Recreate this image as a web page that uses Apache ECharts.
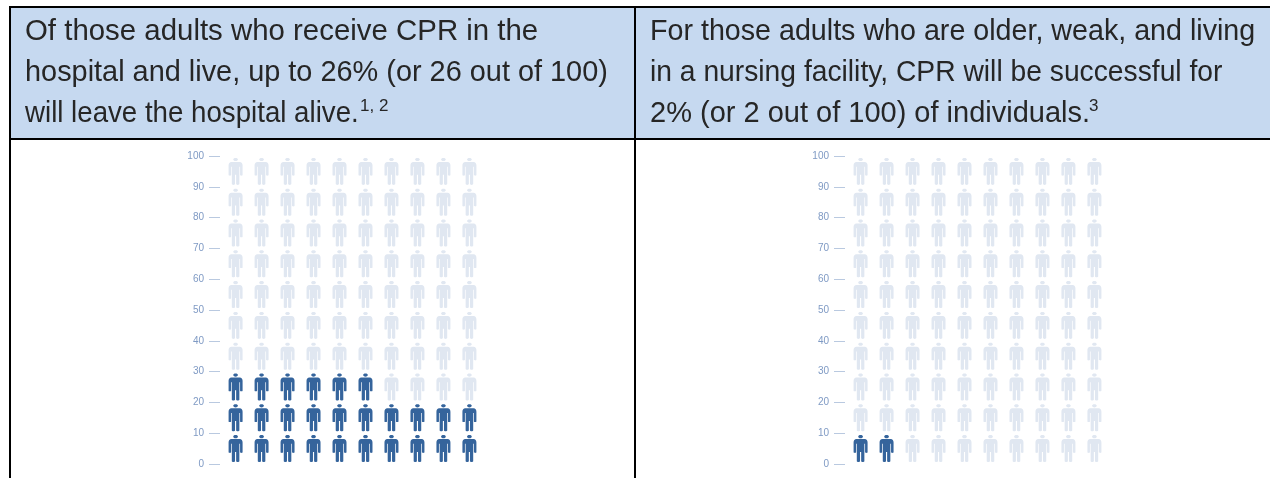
<!DOCTYPE html>
<html><head><meta charset="utf-8">
<script src="https://cdn.jsdelivr.net/npm/echarts@6/dist/echarts.min.js"></script>
<style>html,body{margin:0;padding:0;background:#fff}#c{width:1270px;height:478px}</style>
</head><body><div id="c"></div>
<script>
const leftLines = ["Of those adults who receive CPR in the","hospital and live, up to 26% (or 26 out of 100)","will leave the hospital alive."];
const leftNote = "1, 2";
const rightLines = ["For those adults who are older, weak, and living","in a nursing facility, CPR will be successful for","2% (or 2 out of 100) of individuals."];
const rightNote = "3";
const rowValues = [5,15,25,35,45,55,65,75,85,95];
const columns = [1,2,3,4,5,6,7,8,9,10];
const leftFilledPerRow = [10,10,6,0,0,0,0,0,0,0];
const rightFilledPerRow = [2,0,0,0,0,0,0,0,0,0];

const person = 'path://M50 0C60 0 67 4 67 9C67 14 60 18 50 18C40 18 33 14 33 9C33 4 40 0 50 0ZM20 23L80 23C92 23 100 31 100 42L100 98C100 103 82 103 82 98L82 50L77 50L77 150C77 156 54 156 54 150L54 96L46 96L46 150C46 156 23 156 23 150L23 50L18 50L18 98C18 103 0 103 0 98L0 42C0 31 8 23 20 23Z';

function cells(filledPerRow){
  const on=[],off=[];
  rowValues.forEach((r,i)=>columns.forEach(c=>(c<=filledPerRow[i]?on:off).push([c,r])));
  return {on,off};
}
function grid(left){return {left,top:156,width:265,height:308};}
const l=cells(leftFilledPerRow), r=cells(rightFilledPerRow);
const xAxis=i=>({gridIndex:i,type:'value',min:0.4,max:10.6,show:false});
const yAxis=i=>({gridIndex:i,type:'value',min:0,max:100,interval:10,
  axisLine:{show:false},splitLine:{show:false},
  axisTick:{show:true,length:11,lineStyle:{color:'#b9c9e0',width:1}},
  axisLabel:{color:'#7f9ac4',fontSize:10,margin:16,fontFamily:'Liberation Sans'}});
const sym=(i,data,color)=>({type:'scatter',xAxisIndex:i,yAxisIndex:i,data,symbol:person,symbolSize:[14,27],
  itemStyle:{color,opacity:1},silent:true,animation:false});

const FS=29, INK='#262626';
const text=(x,y,t,sx,fs)=>({type:'text',x,y,scaleX:sx||1,z:10,silent:true,style:{text:t,x:0,y:0,fill:INK,font:(fs||FS)+'px "Liberation Sans"',textVerticalAlign:'middle'}});
const rect=(x,y,w,h,c)=>({type:'rect',silent:true,z:5,shape:{x,y,width:w,height:h},style:{fill:c}});
const elements=[
  rect(10,7,1260,132,'#c6d9f0'),
  rect(9,6,1261,2,'#000'), rect(9,138,1261,2,'#000'),
  rect(9,6,2,472,'#000'), rect(634,6,2,472,'#000'),
  text(25,32,leftLines[0],1.014), text(25,73,leftLines[1],0.996), text(25,114,leftLines[2],0.954),
  text(360,106,leftNote,1,17),
  text(650,32,rightLines[0],0.988), text(650,73,rightLines[1],0.974), text(650,114,rightLines[2],1),
  text(1089,106,rightNote,1,17)
];
const chart=echarts.init(document.getElementById('c'),null,{renderer:'canvas'});
chart.setOption({animation:false,backgroundColor:'#fff',
  grid:[grid(220),grid(845)],
  xAxis:[xAxis(0),xAxis(1)], yAxis:[yAxis(0),yAxis(1)],
  series:[sym(0,l.off,'#e0e7f1'),sym(0,l.on,'#35649c'),sym(1,r.off,'#e0e7f1'),sym(1,r.on,'#35649c')],
  graphic:{elements}
});
</script></body></html>
